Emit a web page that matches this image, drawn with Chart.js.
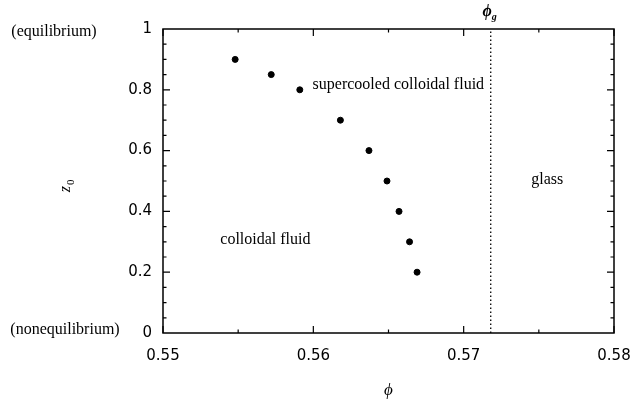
<!DOCTYPE html>
<html>
<head>
<meta charset="utf-8">
<script src="https://cdn.jsdelivr.net/npm/chart.js@4/dist/chart.umd.min.js"></script>
<style>
html,body{margin:0;padding:0;background:#fff;}
canvas{display:block;}
</style>
</head>
<body>
<canvas id="c" width="633" height="403"></canvas>
<script>
// Data
const phi = [0.5548, 0.5572, 0.5591, 0.5618, 0.5637, 0.5649, 0.5657, 0.5664, 0.5669];
const z0  = [0.90, 0.85, 0.80, 0.70, 0.60, 0.50, 0.40, 0.30, 0.20];
const phiG = 0.5718;
const xTickLabels = ['0.55', '0.56', '0.57', '0.58'];
const yTickLabels = ['0', '0.2', '0.4', '0.6', '0.8', '1'];
const xMinorTicks = [0.555, 0.565, 0.575];
const regionLabels = ['supercooled colloidal fluid', 'colloidal fluid', 'glass'];
const regionAnchors = [[0.55995, 0.817], [0.55381, 0.307], [0.5745, 0.504]];
const sideLabels = ['(equilibrium)', '(nonequilibrium)'];

const serif = '"Liberation Serif", "DejaVu Serif", serif';
const sans = '"DejaVu Sans", sans-serif';

const framePlugin = {
  id: 'frame',
  afterDraw(chart) {
    const ctx = chart.ctx;
    const a = chart.chartArea;
    const xs = chart.scales.x, ys = chart.scales.y;
    ctx.save();
    ctx.strokeStyle = '#000';
    ctx.lineWidth = 1.5;
    ctx.strokeRect(a.left, a.top, a.right - a.left, a.bottom - a.top);
    ctx.lineWidth = 1.2;
    ctx.beginPath();
    for (let i = 1; i < 20; i++) {
      const v = i * 0.05;
      const p = ys.getPixelForValue(v);
      const len = (i % 4 === 0) ? 7 : 3.5;
      ctx.moveTo(a.left, p); ctx.lineTo(a.left + len, p);
      ctx.moveTo(a.right, p); ctx.lineTo(a.right - len, p);
    }
    xTickLabels.forEach(t => {
      const p = xs.getPixelForValue(parseFloat(t));
      ctx.moveTo(p, a.bottom); ctx.lineTo(p, a.bottom - 7);
      ctx.moveTo(p, a.top); ctx.lineTo(p, a.top + 7);
    });
    xMinorTicks.forEach(v => {
      const p = xs.getPixelForValue(v);
      ctx.moveTo(p, a.bottom); ctx.lineTo(p, a.bottom - 3.5);
      ctx.moveTo(p, a.top); ctx.lineTo(p, a.top + 3.5);
    });
    ctx.stroke();

    ctx.fillStyle = '#000';
    ctx.font = '16px ' + serif;
    ctx.textBaseline = 'middle';
    ctx.textAlign = 'left';
    regionLabels.forEach((t, i) => {
      ctx.fillText(t, xs.getPixelForValue(regionAnchors[i][0]), ys.getPixelForValue(regionAnchors[i][1]));
    });

    ctx.textAlign = 'center';
    ctx.fillText(sideLabels[0], 54, ys.getPixelForValue(1) + 3);
    ctx.fillText(sideLabels[1], 65, ys.getPixelForValue(0) - 3);

    const gx = xs.getPixelForValue(phiG);
    ctx.font = 'bold italic 16px ' + serif;
    ctx.textAlign = 'right';
    ctx.fillText('\u03d5', gx + 1, 12);
    ctx.font = 'bold italic 10px ' + serif;
    ctx.textAlign = 'left';
    ctx.fillText('g', gx + 1, 17);

    ctx.font = 'italic 17px ' + serif;
    ctx.textAlign = 'center';
    ctx.fillText('\u03d5', (a.left + a.right) / 2, 391);

    ctx.save();
    ctx.translate(66, 186);
    ctx.rotate(-Math.PI / 2);
    ctx.font = 'italic 16px ' + serif;
    ctx.textAlign = 'right';
    ctx.fillText('z', 0, 0);
    ctx.font = '11px ' + serif;
    ctx.textAlign = 'left';
    ctx.fillText('0', 1, 5);
    ctx.restore();

    ctx.restore();
  }
};

new Chart(document.getElementById('c'), {
  type: 'scatter',
  data: {
    datasets: [
      {
        label: 'z0',
        data: phi.map((x, i) => ({x: x, y: z0[i]})),
        backgroundColor: '#000',
        borderColor: '#000',
        pointRadius: 3,
        pointHoverRadius: 3
      },
      {
        label: 'phi_g',
        type: 'line',
        data: [{x: phiG, y: 0}, {x: phiG, y: 1}],
        borderColor: '#000',
        borderWidth: 1.3,
        borderDash: [1.5, 2.5],
        pointRadius: 0,
        fill: false
      }
    ]
  },
  options: {
    responsive: false,
    animation: false,
    devicePixelRatio: 1,
    layout: { padding: { top: 29, right: 19, left: 0, bottom: 0 } },
    plugins: { legend: { display: false }, tooltip: { enabled: false } },
    scales: {
      x: {
        type: 'linear',
        min: 0.55, max: 0.58,
        afterFit(s) { s.height = 70; s.paddingLeft = 0; s.paddingRight = 0; },
        afterBuildTicks(s) { s.ticks = xTickLabels.map(t => ({value: parseFloat(t)})); },
        grid: { display: false, drawTicks: false },
        border: { display: false },
        ticks: {
          padding: 14,
          color: '#000',
          font: { family: sans, size: 15 },
          callback: (v, i) => xTickLabels[i]
        }
      },
      y: {
        type: 'linear',
        min: 0, max: 1,
        afterFit(s) { s.width = 163; s.paddingTop = 0; s.paddingBottom = 0; },
        afterBuildTicks(s) { s.ticks = yTickLabels.map(t => ({value: parseFloat(t)})); },
        grid: { display: false, drawTicks: false },
        border: { display: false },
        ticks: {
          padding: 11,
          color: '#000',
          font: { family: sans, size: 15 },
          callback: (v, i) => yTickLabels[i]
        }
      }
    }
  },
  plugins: [framePlugin]
});
</script>
</body>
</html>
